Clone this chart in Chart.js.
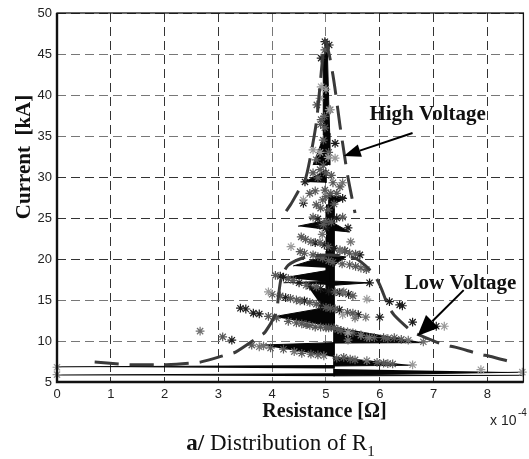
<!DOCTYPE html>
<html>
<head>
<meta charset="utf-8">
<style>
  html, body { margin: 0; padding: 0; background: #fff; overflow: hidden; }
  #wrap { position: relative; width: 529px; height: 459px; }
  #graph { position: absolute; left: 0; top: 0; }
  #caption { position: absolute; left: 0; width: 561px; top: 430px; text-align: center;
    font: 23px "Liberation Serif", serif; color: #111; }
  #caption sub { font-size: 15px; line-height: 0; }
</style>
<script src="https://cdn.jsdelivr.net/npm/chart.js@4"></script>
</head>
<body>
<div id="wrap">
  <canvas id="graph" width="529" height="459"></canvas>
  <div id="caption"><b>a/</b> Distribution of R<sub>1</sub></div>
</div>
<script>
const xTicks = [0, 1, 2, 3, 4, 5, 6, 7, 8];
const yTicks = [5, 10, 15, 20, 25, 30, 35, 40, 45, 50];

// measured points, by how dark they print
const darkX = [3.25, 3.41, 3.51, 3.65, 3.76, 4.21, 4.61, 4.58, 4.89, 5.00, 5.41, 5.63, 5.81, 6.18, 6.37, 6.42, 6.61, 7.05, 6.00, 5.06, 4.91, 4.98, 5.17, 5.31, 4.15, 4.5, 4.7, 4.9, 5.05, 5.25, 5.42, 4.25, 4.6, 4.9, 5.25, 5.6, 5.1, 4.85, 5.2, 5.15, 4.8, 4.97, 5.35];
const darkY = [10.1, 14.0, 13.9, 13.4, 13.3, 17.8, 29.4, 26.8, 24.1, 23.8, 23.8, 20.5, 17.1, 14.8, 14.4, 14.3, 12.3, 11.8, 12.9, 46.1, 44.5, 46.5, 34.1, 27.4, 17.9, 17.1, 16.7, 16.4, 16.1, 15.9, 15.7, 15.3, 14.9, 14.3, 13.8, 13.2, 11.7, 24.9, 25.0, 21.3, 22.0, 21.7, 21.0];

const midX = [3.08, 3.62, 3.97, 4.21, 4.72, 5.33, 5.54, 6.07, 6.24, 5.15, 5.28, 5.50, 5.76, 6.07, 6.27, 4.45, 4.63, 4.80, 5.00, 3.93, 4.08, 4.15, 4.34, 4.52, 4.82, 5.00, 5.17, 5.50, 4.06, 4.39, 4.63, 4.82, 5.17, 5.31, 5.50, 4.52, 4.76, 4.94, 5.13, 5.44, 5.65, 4.54, 4.72, 4.89, 5.04, 5.26, 5.44, 4.76, 5.00, 5.31, 4.70, 4.82, 4.94, 5.04, 5.09, 4.98, 5.26, 5.13, 4.76, 4.89, 5.00, 4.82, 4.98, 4.91, 4.98, 4.83, 4.55, 4.85, 5.2, 5.45, 5.95, 6.15, 5.22, 5.4, 5.65, 5.9, 6.15, 6.4, 4.3, 4.55, 4.7, 4.9, 5.05, 4.0, 4.45, 4.7, 5.08, 5.4, 4.3, 4.6, 4.85, 5.05, 5.3, 5.55, 5.75, 4.62, 5.35, 5.55, 4.95, 5.1, 4.9, 5.15, 5.0, 4.8, 5.2, 5.1, 4.95, 4.85, 5.05, 4.95, 4.9, 4.97];
const midY = [10.5, 9.5, 9.15, 9.0, 8.4, 8.0, 7.7, 7.3, 7.2, 11.6, 11.3, 11.0, 10.4, 10.4, 10.4, 12.2, 12.0, 11.7, 11.6, 13.0, 12.8, 15.5, 15.2, 14.9, 14.5, 14.1, 13.9, 13.4, 18.0, 17.4, 16.8, 16.6, 16.0, 15.9, 15.5, 20.9, 20.5, 20.1, 19.6, 19.3, 18.9, 22.7, 22.1, 22.0, 21.5, 21.1, 20.7, 25.1, 24.6, 25.1, 28.0, 26.6, 27.2, 26.0, 28.0, 28.4, 28.8, 29.3, 30.5, 30.9, 30.5, 32.1, 36.0, 37.0, 45.5, 38.8, 8.5, 8.3, 7.9, 7.8, 7.4, 7.25, 11.4, 11.1, 10.7, 10.4, 10.3, 10.2, 12.4, 12.1, 11.9, 11.7, 11.6, 15.7, 15.0, 14.7, 14.0, 13.5, 17.6, 20.7, 20.3, 19.8, 19.4, 19.1, 18.7, 22.4, 21.0, 20.6, 24.2, 24.5, 26.2, 26.7, 27.6, 28.3, 28.0, 30.2, 31.4, 29.9, 33.0, 34.5, 36.4, 37.4];

const greyX = [2.66, 3.76, 3.84, 4.41, 4.96, 5.76, 5.41, 5.65, 5.81, 6.53, 6.81, 5.54, 5.74, 5.46, 5.26, 5.33, 4.93, 5.31, 5.08];
const greyY = [11.2, 9.3, 9.4, 8.7, 8.2, 7.6, 10.1, 10.7, 10.4, 10.1, 9.9, 12.8, 12.9, 22.1, 21.0, 16.0, 23.0, 29.3, 38.2];

const lightX = [3.93, 5.76, 5.31, 7.20, 5.04, 5.17, 4.76, 4.89, 5.06, 4.91, 5.00, 4.89, 4.58, 6.61, 7.88, 0, 0, 8.65, 4.35, 5.41];
const lightY = [16.0, 15.1, 13.2, 11.8, 32.4, 32.3, 33.3, 33.0, 38.2, 41.0, 40.7, 39.6, 27.2, 7.1, 6.5, 6.8, 5.9, 6.2, 21.5, 11.0];

// fitted distributions
const highVoltageX = [4.26, 4.35, 4.48, 4.61, 4.70, 4.82, 4.89, 4.94, 4.99, 5.07, 5.13, 5.18, 5.26, 5.31, 5.41, 5.54];
const highVoltageY = [25.85, 26.7, 28.2, 29.6, 32.1, 36.6, 41.2, 44.6, 46.7, 44.6, 42.4, 40.2, 36.3, 34.1, 29.9, 25.6];
const lowVoltageX = [0.70, 1.16, 1.35, 1.85, 2.03, 2.49, 2.68, 3.14, 3.32, 3.71, 3.87, 4.08, 4.11, 4.17, 4.30, 4.63, 5.07, 5.54, 5.87, 6.00, 6.16, 6.27, 6.61, 6.73, 7.21, 7.40, 7.86, 8.04, 8.45];
const lowVoltageY = [7.45, 7.2, 7.1, 7.1, 7.1, 7.3, 7.45, 8.3, 8.65, 10.35, 11.1, 13.55, 15.1, 17.7, 19.25, 20.25, 20.5, 20.1, 18.3, 16.85, 14.25, 13.15, 11.1, 10.75, 9.5, 9.25, 8.4, 8.15, 7.45];

// black wedges where the sorted points join up
const wedges = [
  { x: [3.78, 5.15, 5.15], y: [9.5, 9.8, 8.05] },
  { x: [5.15, 5.15, 6.84], y: [11.75, 9.75, 9.8] },
  { x: [5.15, 5.15, 6.61], y: [8.1, 6.95, 7.05] },
  { x: [0, 5.15, 5.15], y: [6.85, 7.0, 6.65] },
  { x: [0, 5.15, 5.15], y: [5.85, 6.0, 5.7] },
  { x: [5.15, 5.15, 8.67], y: [6.6, 5.85, 6.2] },
  { x: [5.15, 5.15, 8.67], y: [5.95, 5.75, 5.82] },
  { x: [4.02, 5.15, 5.15], y: [12.95, 14.25, 11.7] },
  { x: [4.67, 5.15, 5.15, 4.95], y: [16.6, 16.2, 11.7, 14.0] },
  { x: [4.21, 5.15, 5.8, 5.15], y: [17.1, 17.3, 17.1, 16.8] },
  { x: [4.21, 5.07, 5.07], y: [17.7, 18.65, 17.2] },
  { x: [4.39, 5.07, 5.37, 5.07], y: [19.15, 20.5, 20.25, 18.9] },
  { x: [4.48, 5.04, 5.44, 5.04], y: [24, 24.75, 23.3, 23.55] },
  { x: [5.04, 5.37, 5.04], y: [27.8, 27.45, 26.35] },
  { x: [4.61, 5.0, 5.0], y: [29.4, 30.85, 29.3] },
  { x: [4.76, 4.98, 5.07, 5.07], y: [31.45, 35.35, 35.35, 31.45] },
  { x: [4.98, 5.02, 5.05, 5.07, 4.96, 4.95], y: [46.7, 46.7, 39.4, 35.1, 35.1, 44.2] },
  { x: [5.0, 5.15, 5.15, 5.0], y: [26.6, 26.6, 16.2, 16.2] }
];

function pairs(xs, ys) {
  return xs.map((x, i) => ({ x: x, y: ys[i] }));
}

function starSet(xs, ys, color, order) {
  return { data: pairs(xs, ys), showLine: false, pointStyle: 'star', pointRadius: 4.4,
    borderColor: color, pointBorderWidth: 1.2, order: order, clip: false };
}

function curveSet(xs, ys) {
  return { data: pairs(xs, ys), showLine: true, pointRadius: 0, borderColor: '#3a3a3a',
    borderWidth: 3, borderDash: [24, 11], tension: 0.25, order: 1 };
}

let sets = [
  curveSet(highVoltageX, highVoltageY),
  curveSet(lowVoltageX, lowVoltageY),
  starSet(lightX, lightY, '#9a9a9a', 2),
  starSet(greyX, greyY, '#707070', 3),
  starSet(midX, midY, '#585858', 4),
  starSet(darkX, darkY, '#1c1c1c', 5)
];
wedges.forEach(w => {
  sets.push({ data: pairs(w.x, w.y), showLine: true, pointRadius: 0, borderColor: '#050505',
    borderWidth: 1, backgroundColor: '#050505', fill: 'shape', order: 6, clip: false });
});

function gridColor(ctx, soft) {
  return soft.includes(ctx.tick.value) ? '#777777' : '#333333';
}

// frame, labels and arrows sit on top of the library's drawing
const notes = {
  id: 'notes',
  afterDraw(chart) {
    const c = chart.ctx, a = chart.chartArea, sx = chart.scales.x, sy = chart.scales.y;
    c.save();
    c.strokeStyle = '#111';
    c.lineWidth = 1.3;
    c.strokeRect(a.left, a.top, a.right - a.left, a.bottom - a.top);
    c.lineWidth = 2.4;
    c.beginPath();
    c.moveTo(a.left, a.top);
    c.lineTo(a.left, a.bottom);
    c.lineTo(a.right, a.bottom);
    c.stroke();

    arrow(c, sx.getPixelForValue(6.61), sy.getPixelForValue(35.37), sx.getPixelForValue(5.33), sy.getPixelForValue(32.56), 17, 6.5);
    arrow(c, sx.getPixelForValue(7.56), sy.getPixelForValue(16.2), sx.getPixelForValue(6.7), sy.getPixelForValue(10.6), 21, 9);

    c.fillStyle = '#111';
    c.font = 'bold 21px "Liberation Serif"';
    c.textBaseline = 'middle';
    c.textAlign = 'center';
    c.fillText('High Voltage', sx.getPixelForValue(6.89), sy.getPixelForValue(37.56));
    c.fillText('Low Voltage', sx.getPixelForValue(7.5), sy.getPixelForValue(17.0));
    c.font = 'bold 20px "Liberation Serif"';
    c.fillText('Resistance [Ω]', 324.5, 412);
    c.save();
    c.translate(25, 157);
    c.rotate(-Math.PI / 2);
    c.font = 'bold 21px "Liberation Serif"';
    c.fillText('Current  [kA]', 0, 0);
    c.restore();
    c.fillStyle = '#222';
    c.font = '14px "Liberation Sans"';
    c.textAlign = 'left';
    c.fillText('x 10', 490, 421);
    c.font = '10px "Liberation Sans"';
    c.fillText('-4', 518, 413);
    c.restore();
  }
};

function arrow(c, x0, y0, x1, y1, len, half) {
  const t = Math.atan2(y1 - y0, x1 - x0);
  c.lineWidth = 2;
  c.strokeStyle = '#000';
  c.beginPath();
  c.moveTo(x0, y0);
  c.lineTo(x1 - Math.cos(t) * len, y1 - Math.sin(t) * len);
  c.stroke();
  c.fillStyle = '#000';
  c.beginPath();
  c.moveTo(x1, y1);
  c.lineTo(x1 - Math.cos(t) * len - Math.sin(t) * half, y1 - Math.sin(t) * len + Math.cos(t) * half);
  c.lineTo(x1 - Math.cos(t) * len + Math.sin(t) * half, y1 - Math.sin(t) * len - Math.cos(t) * half);
  c.closePath();
  c.fill();
}

new Chart(document.getElementById('graph'), {
  type: 'scatter',
  data: { datasets: sets },
  plugins: [notes],
  options: {
    responsive: false,
    animation: false,
    layout: { padding: { left: 0, right: 2, top: 13, bottom: 0 } },
    plugins: { legend: { display: false }, tooltip: { enabled: false } },
    scales: {
      x: {
        type: 'linear', min: 0, max: 8.67,
        afterFit: s => { s.height = 77; },
        afterBuildTicks: s => { s.ticks = xTicks.map(v => ({ value: v })); },
        grid: { color: ctx => gridColor(ctx, [4, 5]), lineWidth: 1, drawTicks: false },
        border: { dash: [9, 5], display: false },
        ticks: { color: '#222', padding: 5, maxRotation: 0, font: { family: 'Liberation Sans', size: 13 } }
      },
      y: {
        type: 'linear', min: 5, max: 50,
        afterFit: s => { s.width = 57; },
        afterBuildTicks: s => { s.ticks = yTicks.map(v => ({ value: v })); },
        grid: { color: ctx => gridColor(ctx, [10, 15, 35, 40, 45]), lineWidth: 1, drawTicks: false },
        border: { dash: [9, 5], display: false },
        ticks: { color: '#222', padding: 5, font: { family: 'Liberation Sans', size: 13 } }
      }
    }
  }
});
</script>
</body>
</html>
